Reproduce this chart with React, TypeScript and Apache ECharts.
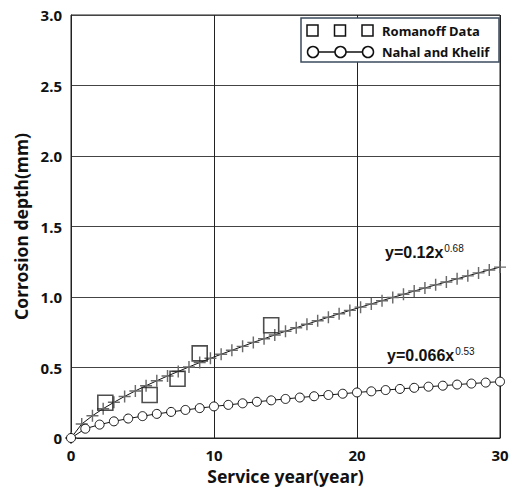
import React, { useEffect, useRef } from "react";
import * as echarts from "echarts";

const fitYears = [0, 0.75, 1.5, 2.25, 3, 3.75, 4.5, 5.25, 6, 6.75, 7.5, 8.25, 9, 9.75, 10.5, 11.25, 12, 12.75, 13.5, 14.25, 15, 15.75, 16.5, 17.25, 18, 18.75, 19.5, 20.25, 21, 21.75, 22.5, 23.25, 24, 24.75, 25.5, 26.25, 27, 27.75, 28.5, 29.25, 30];
const fitDepth = [0, 0.099, 0.158, 0.208, 0.253, 0.295, 0.334, 0.371, 0.406, 0.44, 0.472, 0.504, 0.535, 0.565, 0.594, 0.622, 0.65, 0.678, 0.704, 0.731, 0.757, 0.782, 0.807, 0.832, 0.857, 0.881, 0.905, 0.928, 0.951, 0.974, 0.997, 1.019, 1.042, 1.064, 1.086, 1.107, 1.129, 1.15, 1.171, 1.192, 1.212];

const nahalYears = [0, 1, 2, 3, 4, 5, 6, 7, 8, 9, 10, 11, 12, 13, 14, 15, 16, 17, 18, 19, 20, 21, 22, 23, 24, 25, 26, 27, 28, 29, 30];
const nahalDepth = [0, 0.066, 0.095, 0.118, 0.138, 0.155, 0.171, 0.185, 0.199, 0.212, 0.224, 0.235, 0.246, 0.257, 0.267, 0.277, 0.287, 0.296, 0.305, 0.314, 0.323, 0.331, 0.34, 0.348, 0.356, 0.364, 0.371, 0.379, 0.386, 0.393, 0.4];

const romanoffYears = [2.4, 5.5, 7.45, 9.0, 14.0];
const romanoffDepth = [0.25, 0.305, 0.42, 0.6, 0.8];

const xTicks = [0, 10, 20, 30];
const yTicks = [0, 0.5, 1.0, 1.5, 2.0, 2.5, 3.0];

const legendNames = ["Romanoff Data", "Nahal and Khelif"];
const fitLabels = [
  { base: "y=0.12x", exp: "0.68" },
  { base: "y=0.066x", exp: "0.53" },
];

const PLUS = "path://M4.4,0H5.6V4.4H10V5.6H5.6V10H4.4V5.6H0V4.4H4.4Z";
const FONT = "'Noto Sans', sans-serif";

export default function App() {
  const ref = useRef<HTMLDivElement>(null);
  useEffect(() => {
    const chart = echarts.init(ref.current!, null, { renderer: "svg" });
    const zip = (xs: number[], ys: number[]) => xs.map((x, i) => [x, ys[i]]);
    const legendX = 301, legendY = 18;
    chart.setOption({
      animation: false,
      backgroundColor: "#fff",
      grid: { left: 71, right: 14, top: 15, bottom: 53, show: true, borderColor: "#222", borderWidth: 1 },
      xAxis: {
        type: "value",
        min: xTicks[0],
        max: xTicks[xTicks.length - 1],
        interval: 10,
        name: "Service year(year)",
        nameLocation: "middle",
        nameGap: 29,
        nameTextStyle: { fontFamily: FONT, fontWeight: "bold", fontSize: 17.5, color: "#111" },
        axisLine: { lineStyle: { color: "#222", width: 1 } },
        axisTick: { show: false },
        axisLabel: { fontFamily: FONT, fontWeight: "bold", fontSize: 15, color: "#111", margin: 9 },
        splitLine: { show: true, lineStyle: { color: "#222", width: 1 } },
      },
      yAxis: {
        type: "value",
        min: yTicks[0],
        max: yTicks[yTicks.length - 1],
        interval: 0.5,
        name: "Corrosion depth(mm)",
        nameLocation: "middle",
        nameGap: 37,
        nameTextStyle: { fontFamily: FONT, fontWeight: "bold", fontSize: 17.5, color: "#111" },
        axisLine: { lineStyle: { color: "#222", width: 1 } },
        axisTick: { show: false },
        axisLabel: {
          fontFamily: FONT, fontWeight: "bold", fontSize: 15, color: "#111", margin: 9,
          formatter: (v: number) => (v === 0 ? "0" : v.toFixed(1)),
        },
        splitLine: { show: true, lineStyle: { color: "#444", width: 1 } },
      },
      series: [
        {
          type: "line",
          name: "fit",
          data: zip(fitYears, fitDepth),
          symbol: PLUS,
          symbolSize: 12,
          showAllSymbol: true,
          itemStyle: { color: "#6a6a6a" },
          lineStyle: { color: "#111", width: 1 },
          z: 3,
        },
        {
          type: "line",
          name: legendNames[1],
          data: zip(nahalYears, nahalDepth),
          symbol: "circle",
          symbolSize: 9,
          showAllSymbol: true,
          itemStyle: { color: "#fff", borderColor: "#111", borderWidth: 1 },
          lineStyle: { color: "#111", width: 1 },
          z: 3,
        },
        {
          type: "scatter",
          name: legendNames[0],
          data: zip(romanoffYears, romanoffDepth),
          symbol: "rect",
          symbolSize: 15,
          itemStyle: { color: "rgba(0,0,0,0)", borderColor: "#222", borderWidth: 1.6 },
          z: 4,
        },
      ],
      graphic: [
        {
          type: "rect",
          shape: { x: legendX, y: legendY, width: 198, height: 44 },
          style: { fill: "#fff", stroke: "#3d4b5e", lineWidth: 1.5 },
          z: 10,
        },
        ...[0, 1, 2].map((i) => ({
          type: "rect",
          shape: { x: legendX + 6 + i * 27.5, y: legendY + 7, width: 11, height: 11 },
          style: { fill: "none", stroke: "#111", lineWidth: 1.5 },
          z: 11,
        })),
        {
          type: "line",
          shape: { x1: legendX + 12, y1: legendY + 34, x2: legendX + 67, y2: legendY + 34 },
          style: { stroke: "#111", lineWidth: 1.3 },
          z: 11,
        },
        ...[0, 1, 2].map((i) => ({
          type: "circle",
          shape: { cx: legendX + 12 + i * 27.5, cy: legendY + 34, r: 5.5 },
          style: { fill: "#fff", stroke: "#111", lineWidth: 1.5 },
          z: 12,
        })),
        {
          type: "text",
          x: legendX + 81,
          y: legendY + 12.5,
          style: { text: legendNames[0], fontFamily: FONT, fontWeight: "bold", fontSize: 13, fill: "#111", verticalAlign: "middle" },
          z: 12,
        },
        {
          type: "text",
          x: legendX + 81,
          y: legendY + 34,
          style: { text: legendNames[1], fontFamily: FONT, fontWeight: "bold", fontSize: 13, fill: "#111", verticalAlign: "middle" },
          z: 12,
        },
        ...fitLabels.map((f, i) => ({
          type: "text",
          x: i === 0 ? 385 : 387,
          y: i === 0 ? 252 : 355,
          style: {
            text: `{a|${f.base}}{b|${f.exp}}`,
            verticalAlign: "middle",
            rich: {
              a: { fontFamily: "'Liberation Sans', Arial, sans-serif", fontWeight: "bold", fontSize: 16, fill: "#111", lineHeight: 18 },
              b: { fontFamily: "'Liberation Sans', Arial, sans-serif", fontSize: 10, fill: "#111", verticalAlign: "top", lineHeight: 10, padding: [0, 0, 0, 1] },
            },
          },
          z: 12,
        })),
      ],
    });
    return () => chart.dispose();
  }, []);
  return <div ref={ref} style={{ width: 514, height: 491, position: "absolute", left: 0, top: 0 }} />;
}
